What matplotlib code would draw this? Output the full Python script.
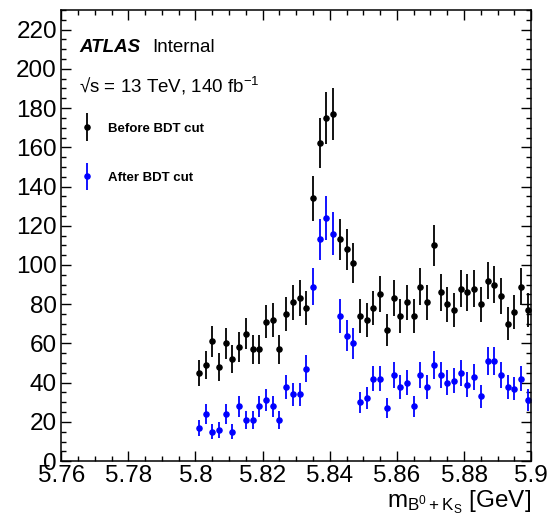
import numpy as np
import matplotlib
matplotlib.use("Agg")
import matplotlib.pyplot as plt
from matplotlib.ticker import MultipleLocator
from matplotlib.legend_handler import HandlerErrorbar
from matplotlib.container import ErrorbarContainer

plt.rcParams['font.family'] = ['Liberation Sans', 'DejaVu Sans']
plt.rcParams['mathtext.fontset'] = 'custom'
plt.rcParams['mathtext.rm'] = 'Liberation Sans'
plt.rcParams['mathtext.it'] = 'Liberation Sans:italic'

# histogram binning: 50 bins of 2 MeV between 5.80 and 5.90 GeV
bin_edges = np.linspace(5.80, 5.90, 51)
bin_centers = 0.5 * (bin_edges[:-1] + bin_edges[1:])

before_bdt = [45, 49, 61, 48, 60, 52, 58, 65, 57, 57, 71, 72, 57, 75, 81, 83, 78,
              134, 162, 175, 177, 113, 108, 101,
              74, 72, 78, 85, 67, 83, 74, 81, 74, 89, 81, 110, 86, 80, 77, 88,
              86, 88, 80, 92, 90, 84, 70, 76, 89, 77]
after_bdt = [17, 24, 15, 16, 24, 15, 28, 21, 21, 28, 31, 28, 21, 38, 34, 34, 47,
             89, 113, 124, 116, 74, 64, 60,
             30, 32, 42, 42, 27, 44, 38, 40, 28, 44, 38, 49, 44, 40, 41, 45,
             39, 43, 33, 51, 51, 44, 38, 37, 42, 31]
labels = ["Before BDT cut", "After BDT cut"]
colors = ["black", "#0000ff"]

before_bdt = np.array(before_bdt)
after_bdt = np.array(after_bdt)

fig = plt.figure(figsize=(5.51, 5.27), dpi=100)
ax = fig.add_axes([0.111, 0.125, 0.853, 0.856])

for vals, lab, col in zip([before_bdt, after_bdt], labels, colors):
    ax.errorbar(bin_centers, vals, yerr=np.sqrt(vals), xerr=0.0006,
                fmt='o', color=col, ms=3.7, elinewidth=1.3, capsize=0, label=lab)

ax.set_xlim(5.76, 5.90)
ax.set_ylim(0, 230)

ax.xaxis.set_major_locator(MultipleLocator(0.02))
ax.xaxis.set_minor_locator(MultipleLocator(0.005))
ax.yaxis.set_major_locator(MultipleLocator(20))
ax.yaxis.set_minor_locator(MultipleLocator(5))
ax.xaxis.set_major_formatter(plt.FuncFormatter(lambda v, p: f"{v:.2f}".rstrip('0')))

ax.tick_params(which='both', direction='in', top=True, right=True, width=1.0)
ax.tick_params(which='major', length=7, labelsize=17.5, pad=3)
ax.tick_params(which='minor', length=3.5)
for sp in ax.spines.values():
    sp.set_linewidth(1.1)

ax.set_xlabel(r'$\mathrm{m_{B^{0}+K_{S}}}$ [GeV]', fontsize=17.5, loc='right', labelpad=1)

ax.text(0.038, 0.918, "ATLAS", transform=ax.transAxes, fontsize=13.5,
        fontweight='bold', fontstyle='italic', va='center')
ax.text(0.193, 0.918, "Internal", transform=ax.transAxes, fontsize=13.5, va='center')
ax.text(0.038, 0.832, r"√s = 13 TeV, 140 fb$^{\mathregular{-1}}$", transform=ax.transAxes,
        fontsize=13.5, va='center')

ax.legend(loc='upper left', bbox_to_anchor=(0.026, 0.762), frameon=False,
          prop={'weight': 'bold', 'size': 9.5}, labelspacing=2.8,
          handlelength=1.2, handletextpad=1.0, borderaxespad=0,
          handler_map={ErrorbarContainer: HandlerErrorbar(xerr_size=0.15, yerr_size=1.05)})

fig.savefig("out.png", dpi=100)
